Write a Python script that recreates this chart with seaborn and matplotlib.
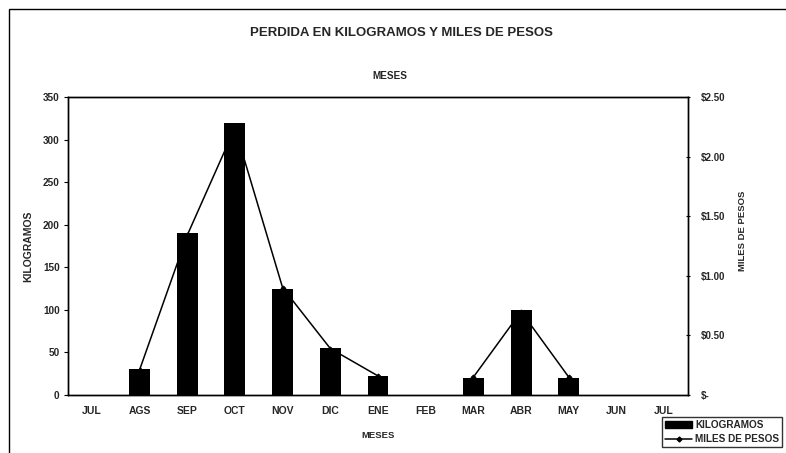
import numpy as np
import pandas as pd
import matplotlib
matplotlib.use("Agg")
import matplotlib.pyplot as plt
import seaborn as sns
from matplotlib.patches import Rectangle
from matplotlib.lines import Line2D
from matplotlib.patches import Patch

months = ["JUL", "AGS", "SEP", "OCT", "NOV", "DIC", "ENE", "FEB", "MAR", "ABR", "MAY", "JUN", "JUL"]
kilogramos = [0, 30, 190, 320, 125, 55, 22, 0, 20, 100, 20, 0, 0]
miles_pesos = [np.nan, 0.21, 1.34, 2.24, 0.90, 0.39, 0.16, np.nan, 0.15, 0.70, 0.15, np.nan, np.nan]
left_ticks = [0, 50, 100, 150, 200, 250, 300, 350]
right_ticks = [0, 0.5, 1.0, 1.5, 2.0, 2.5]
right_labels = ["$-", "$0.50", "$1.00", "$1.50", "$2.00", "$2.50"]

sns.set_theme(style="white")
plt.rcParams['font.family'] = ['Liberation Sans', 'DejaVu Sans']

W, H = 786, 453
fig = plt.figure(figsize=(W / 100, H / 100), dpi=100)
ax = fig.add_axes([68 / W, 1 - 395 / H, 620 / W, 298 / H])

pos = np.arange(len(months))
df = pd.DataFrame({"pos": pos, "kg": kilogramos, "mp": miles_pesos})

sns.barplot(data=df, x="pos", y="kg", color="black", width=0.44, ax=ax,
            saturation=1, edgecolor="black", linewidth=0)
ax.set_xlim(-0.5, len(months) - 0.5)
ax.set_ylim(0, 350)
ax.set_yticks(left_ticks)
ax.set_yticklabels([str(t) for t in left_ticks], fontsize=7.2, fontweight="bold")
ax.set_xticks(pos)
ax.set_xticklabels(months, fontsize=7.5, fontweight="bold")
ax.tick_params(axis="x", length=0, pad=8)
ax.set_xticks(np.arange(-0.5, len(months), 1), minor=True)
ax.tick_params(axis="x", which="minor", length=3, direction="inout", width=0.8, color="black")
ax.tick_params(axis="y", length=3, direction="out", width=0.8, color="black", left=True, pad=3)
ax.set_xlabel("MESES", fontsize=6.8, fontweight="bold", labelpad=11)
ax.set_ylabel("KILOGRAMOS", fontsize=7.5, fontweight="bold", labelpad=7)
for s in ax.spines.values():
    s.set_color("black")
    s.set_linewidth(1.0)

ax2 = ax.twinx()
seg = np.cumsum(np.isnan(df["mp"].values))
df["seg"] = seg
sns.lineplot(data=df.dropna(), x="pos", y="mp", units="seg", estimator=None,
             color="black", linewidth=1.1, marker="D", markersize=2.5,
             markeredgecolor="black", ax=ax2)
ax2.set_ylim(0, 2.5)
ax2.set_xlim(-0.5, len(months) - 0.5)
ax2.set_yticks(right_ticks)
ax2.set_yticklabels(right_labels, fontsize=7, fontweight="bold")
ax2.tick_params(axis="y", length=3, direction="inout", width=0.8, color="black", right=True, pad=8)
ax2.set_ylabel("MILES DE PESOS", fontsize=6.8, fontweight="bold", rotation=90)
ax2.yaxis.set_label_coords(1.08, 0.55)
ax2.set_xlabel("")
for s in ax2.spines.values():
    s.set_color("black")
    s.set_linewidth(1.0)

# bars in front of the line
ax.set_zorder(2)
ax.patch.set_visible(False)
ax2.set_zorder(1)

fig.text(401 / W, 1 - 33 / H, "PERDIDA EN KILOGRAMOS Y MILES DE PESOS", ha="center", va="center",
         fontsize=9.5, fontweight="bold")
fig.text(390 / W, 1 - 76 / H, "MESES", ha="center", va="center", fontsize=7.2, fontweight="bold")

# outer frame
fig.patches.append(Rectangle((9 / W, -0.1), 1.2, 1 - 9 / H + 0.1, transform=fig.transFigure,
                             fill=False, edgecolor="black", linewidth=1.0))

handles = [Patch(facecolor="black", edgecolor="black"),
           Line2D([0], [0], color="black", marker="D", markersize=2.5, linewidth=1.1)]
leg = fig.legend(handles, ["KILOGRAMOS", "MILES DE PESOS"], loc="upper left",
                 bbox_to_anchor=(662 / W, 1 - 417 / H), bbox_transform=fig.transFigure,
                 fontsize=7.2, frameon=True, fancybox=False, edgecolor="black",
                 handlelength=2.7, handleheight=0.7, borderpad=0.3, labelspacing=0.4,
                 handletextpad=0.3, borderaxespad=0)
leg.get_frame().set_linewidth(1.0)
for t in leg.get_texts():
    t.set_fontweight("bold")

fig.savefig("out.png", dpi=100)
